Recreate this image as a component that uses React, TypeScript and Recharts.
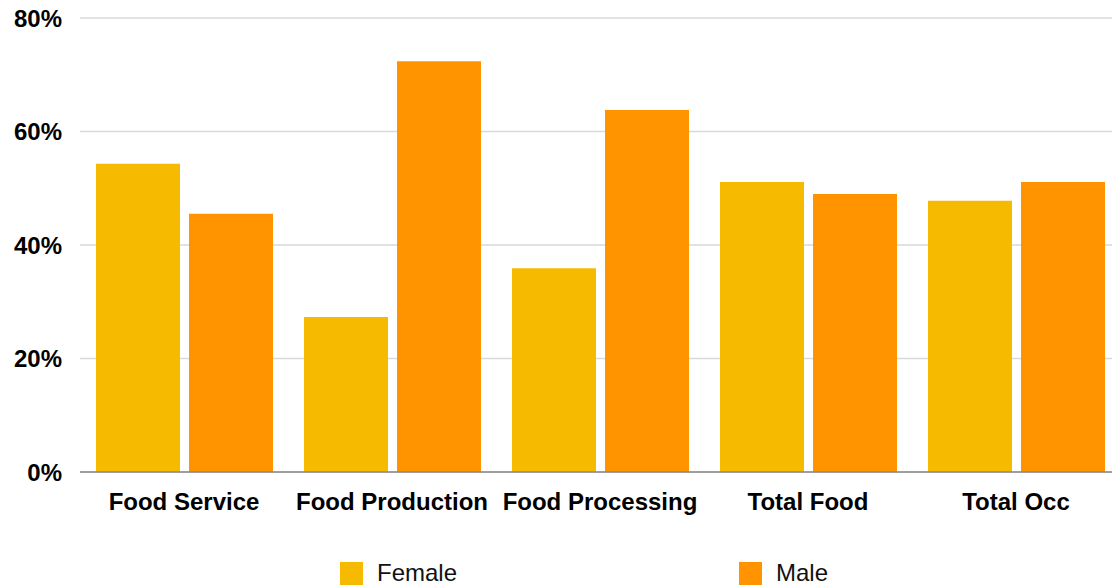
import React from 'react';
import { BarChart, Bar, XAxis, YAxis, CartesianGrid, Legend } from 'recharts';

const categories = ['Food Service', 'Food Production', 'Food Processing', 'Total Food', 'Total Occ'];
const female = [54.3, 27.3, 35.9, 51.1, 47.8];
const male = [45.5, 72.4, 63.8, 49.0, 51.1];
const yTicks = [0, 20, 40, 60, 80];

const FEMALE_COLOR = '#F6BA00';
const MALE_COLOR = '#FF9300';
const FONT = '"Liberation Sans", Arial, Helvetica, sans-serif';

const data = categories.map((name, i) => ({ name, Female: female[i], Male: male[i] }));

const LegendContent = (props: any) => {
  const items = props.payload || [];
  return (
    <div style={{ display: 'flex', height: 30, alignItems: 'center', paddingLeft: 340, gap: 282, fontFamily: FONT }}>
      {items.map((it: any) => (
        <div key={it.value} style={{ display: 'flex', alignItems: 'center' }}>
          <span style={{ width: 23, height: 23, background: it.color, display: 'inline-block', marginRight: 14 }} />
          <span style={{ fontSize: 24, color: '#111' }}>{it.value}</span>
        </div>
      ))}
    </div>
  );
};

export default function App() {
  // the plot runs a little past the right edge, so the frame clips it
  return (
    <div style={{ position: 'absolute', left: 0, top: 0, width: 1112, height: 588, overflow: 'hidden', background: '#fff' }}>
      <BarChart
        width={1120}
        height={588}
        data={data}
        margin={{ top: 18, right: 0, bottom: 0, left: 0 }}
        barCategoryGap={16}
        barGap={9}
      >
        <CartesianGrid vertical={false} stroke="#d9d9d9" strokeWidth={1.5} />
        <XAxis
          dataKey="name"
          height={86}
          tickLine={false}
          tickSize={0}
          tickMargin={21}
          axisLine={{ stroke: '#888', strokeWidth: 1.5 }}
          tick={{ fill: '#000', fontSize: 24, fontWeight: 700, fontFamily: FONT }}
          interval={0}
        />
        <YAxis
          width={80}
          domain={[0, 80]}
          ticks={yTicks}
          tickFormatter={(v: number) => `${v}%`}
          axisLine={false}
          tickLine={false}
          tickSize={0}
          tickMargin={18}
          tick={{ fill: '#000', fontSize: 24, fontWeight: 700, fontFamily: FONT }}
        />
        <Legend verticalAlign="bottom" height={30} content={LegendContent} />
        <Bar dataKey="Female" fill={FEMALE_COLOR} isAnimationActive={false} />
        <Bar dataKey="Male" fill={MALE_COLOR} isAnimationActive={false} />
      </BarChart>
    </div>
  );
}
